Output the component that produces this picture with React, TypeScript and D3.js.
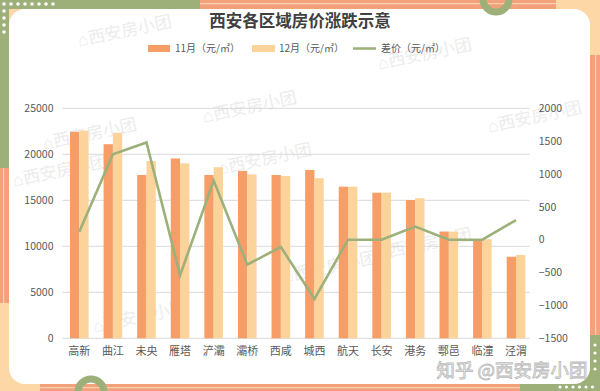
import React from 'react';
import * as d3 from 'd3';

const districts = ['高新', '曲江', '未央', '雁塔', '浐灞', '灞桥', '西咸', '城西', '航天', '长安', '港务', '鄠邑', '临潼', '泾渭'];
const nov = [22450, 21100, 17750, 19550, 17750, 18200, 17750, 18300, 16480, 15830, 15030, 11600, 10760, 8870];
const dec = [22570, 22350, 19270, 19020, 18600, 17820, 17640, 17400, 16480, 15830, 15230, 11600, 10760, 9060];
const diff = [120, 1300, 1480, -540, 900, -380, -110, -900, 0, 0, 200, 0, 0, 300];
const leftTicks = [0, 5000, 10000, 15000, 20000, 25000];
const rightTicks = [-1500, -1000, -500, 0, 500, 1000, 1500, 2000];

const W = 600;
const H = 391;
const margin = { top: 108.3, bottom: 52.7, left: 62.5, right: 67.2 };
const font = '"Noto Sans CJK SC", "Noto Sans", sans-serif';

const c11 = '#F79D68';
const c12 = '#FDD39C';
const cLine = '#9CB07A';
const green = '#9DB07A';
const peach = '#FDD8A6';
const stripe = '#F2A17A';

// watermark spots, kept clear of axis labels
const watermarks = [
  [125, 32], [425, 55], [250, 108], [90, 135], [535, 118], [265, 160],
  [60, 172], [330, 268], [425, 245], [140, 318],
];

const App = () => {
  const innerW = W - margin.left - margin.right;
  const innerH = H - margin.top - margin.bottom;
  const x = d3.scaleBand().domain(districts).range([0, innerW]).padding(0);
  const yL = d3.scaleLinear().domain([0, 25000]).range([innerH, 0]);
  const yR = d3.scaleLinear().domain([-1500, 2000]).range([innerH, 0]);
  const bw = x.bandwidth() * 0.277;
  const cx = (d: string) => (x(d) as number) + x.bandwidth() / 2;

  const line = d3
    .line<number>()
    .x((_, i) => cx(districts[i]))
    .y((v) => yR(v));

  const dotsTop = d3.range(0, 8).map((i) => 4 + i * 7);
  const dotsLeft = d3.range(1, 5).map((i) => 4 + i * 7);

  return (
    <svg width={W} height={H} style={{ position: 'absolute', left: 0, top: 0 }} fontFamily={font}>
      {/* frame */}
      <rect width={W} height={H} fill={peach} />
      <rect x={0} y={0} width={200} height={9} fill={green} />
      <rect x={0} y={0} width={9} height={168} fill={green} />
      <rect x={0} y={168} width={9} height={135} fill={stripe} />
      <rect x={3} y={168} width={1.2} height={135} fill="#FBD0B3" />
      <rect x={200} y={0} width={356} height={9} fill={stripe} />
      <rect x={200} y={3} width={356} height={1.2} fill="#FBD0B3" />
      <rect x={590} y={55} width={10} height={280} fill={stripe} />
      <rect x={595} y={55} width={1.2} height={280} fill="#FBD0B3" />
      <rect x={520} y={372} width={80} height={19} fill={green} />
      <rect x={588} y={335} width={12} height={56} fill={green} />
      <rect x={40} y={384} width={480} height={7} fill={stripe} />
      <rect x={40} y={387} width={480} height={1.2} fill="#FBD0B3" />
      {dotsTop.map((d) => (
        <circle key={'t' + d} cx={d} cy={4} r={1.8} fill="#fff" />
      ))}
      {dotsLeft.map((d) => (
        <circle key={'l' + d} cx={4} cy={d} r={1.8} fill="#fff" />
      ))}
      {d3.range(0, 6).map((i) => (
        <circle key={'br' + i} cx={560 + i * 6.5} cy={387} r={1.6} fill="#fff" />
      ))}
      {d3.range(0, 4).map((i) => (
        <circle key={'rr' + i} cx={595} cy={345 + i * 8} r={1.6} fill="#fff" />
      ))}
      <rect x={9} y={9} width={581} height={375} rx={16} fill="#fff" />
      <circle cx={496} cy={-1} r={13} fill="none" stroke={green} strokeWidth={7} />
      <circle cx={91} cy={392} r={13} fill="none" stroke={green} strokeWidth={7} />

      {/* watermarks */}
      {watermarks.map(([wx, wy], i) => (
        <text
          key={'w' + i}
          transform={`translate(${wx},${wy}) rotate(-12)`}
          fontSize={17}
          fill="#ececec"
          textAnchor="middle"
          dominantBaseline="middle"
        >
          ⌂西安房小团
        </text>
      ))}

      {/* title */}
      <text x={300} y={27} textAnchor="middle" fontSize={16.5} fontWeight="bold" fill="#404040">
        西安各区域房价涨跌示意
      </text>

      {/* legend */}
      <g fontSize={10} fill="#595959">
        <rect x={148} y={45} width={22} height={7} fill={c11} />
        <text x={175} y={52}>11月（元/㎡）</text>
        <rect x={252} y={45} width={23} height={7} fill={c12} />
        <text x={279} y={52}>12月（元/㎡）</text>
        <line x1={353} x2={376} y1={48.5} y2={48.5} stroke={cLine} strokeWidth={2.5} />
        <text x={381} y={52}>差价（元/㎡）</text>
      </g>

      <g transform={`translate(${margin.left},${margin.top})`}>
        {leftTicks.map((t) => (
          <g key={'g' + t}>
            <line x1={0} x2={innerW - 3} y1={yL(t)} y2={yL(t)} stroke="#d9d9d9" strokeWidth={1} />
            <text x={-9} y={yL(t)} dy="0.35em" textAnchor="end" fontSize={10.5} fill="#595959">
              {t}
            </text>
          </g>
        ))}
        {rightTicks.map((t) => (
          <text key={'r' + t} x={innerW + 6} y={yR(t)} dy="0.35em" fontSize={10.5} fill="#595959">
            {t < 0 ? '−' + Math.abs(t) : t}
          </text>
        ))}
        {districts.map((d, i) => (
          <g key={d}>
            <rect x={cx(d) - bw} y={yL(nov[i])} width={bw} height={innerH - yL(nov[i])} fill={c11} />
            <rect x={cx(d)} y={yL(dec[i])} width={bw} height={innerH - yL(dec[i])} fill={c12} />
            <text x={cx(d)} y={innerH + 17} textAnchor="middle" fontSize={11} fill="#595959">
              {d}
            </text>
          </g>
        ))}
        <path d={line(diff) as string} fill="none" stroke={cLine} strokeWidth={2.6} strokeLinejoin="miter" />
      </g>

      {/* zhihu watermark */}
      <text
        x={512}
        y={377}
        textAnchor="middle"
        fontSize={18.5}
        fill="#fff"
        stroke="#bdbdbd"
        strokeWidth={0.9}
      >
        知乎 @西安房小团
      </text>
    </svg>
  );
};

export default App;
